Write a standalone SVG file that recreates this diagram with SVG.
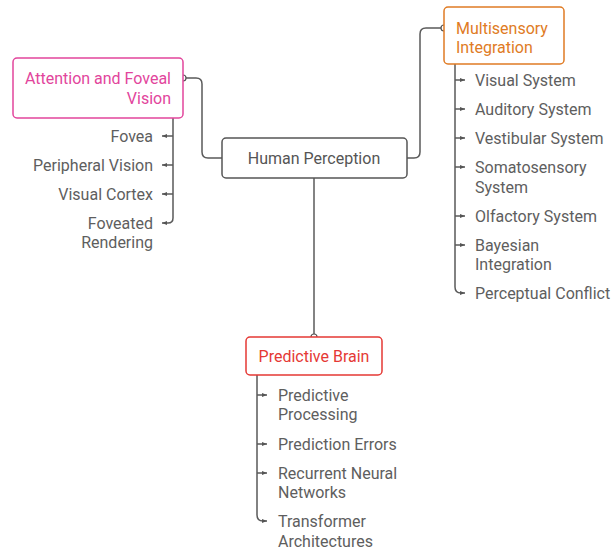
<svg xmlns="http://www.w3.org/2000/svg" width="612" height="551" viewBox="0 0 612 551">
  <defs>
    <marker id="tip" viewBox="0 0 6 6" refX="5" refY="3" markerWidth="6" markerHeight="6" markerUnits="userSpaceOnUse" orient="auto">
      <path d="M0,1 L5,3 L0,5 Z" fill="#555"/>
    </marker>
    <style>
      .box { fill: #fff; stroke-width: 1.5; }
      .link { fill: none; stroke: #5a5a5a; stroke-width: 1.5; }
      .tick { fill: none; stroke: #5a5a5a; stroke-width: 1.5; marker-end: url(#tip); }
      .port { fill: #fff; stroke: #555; stroke-width: 1.2; }
      text { font-family: Roboto, "Liberation Sans", sans-serif; font-size: 16px; dominant-baseline: central; }
      .leaf { fill: #5e5e5e; }
      .end { text-anchor: end; }
      .mid { text-anchor: middle; }
    </style>
  </defs>

  <!-- connectors -->
  <g id="connectors">
    <path class="link" d="M183,78 H196 Q202,78 202,84 V152 Q202,158 208,158 H222"/>
    <path class="link" d="M407,158 H414 Q420,158 420,152 V34 Q420,28 426,28 H444"/>
    <path class="link" d="M314,178 V337"/>
    <!-- left branch -->
    <path class="link" d="M173,118 V218 Q173,223 168,223"/>
    <path class="tick" d="M173,136 H162"/>
    <path class="tick" d="M173,165 H162"/>
    <path class="tick" d="M173,194 H162"/>
    <path class="tick" d="M168,223 H162"/>
    <!-- right branch -->
    <path class="link" d="M455,64 V287 Q455,293 461,293"/>
    <path class="tick" d="M455,80 H465"/>
    <path class="tick" d="M455,109 H465"/>
    <path class="tick" d="M455,138 H465"/>
    <path class="tick" d="M455,167 H465"/>
    <path class="tick" d="M455,216 H465"/>
    <path class="tick" d="M455,245 H465"/>
    <path class="tick" d="M461,293 H465"/>
    <!-- bottom branch -->
    <path class="link" d="M257,375 V515 Q257,521 263,521"/>
    <path class="tick" d="M257,395 H267"/>
    <path class="tick" d="M257,444 H267"/>
    <path class="tick" d="M257,473 H267"/>
    <path class="tick" d="M263,521 H267"/>
    <circle class="port" cx="183" cy="78" r="3"/>
    <circle class="port" cx="444" cy="28" r="3"/>
    <circle class="port" cx="314" cy="337" r="3"/>
  </g>

  <g id="human-perception">
    <rect class="box" x="222" y="138" width="185" height="40" rx="4" stroke="#555"/>
    <text class="mid" x="314" y="158" fill="#555">Human Perception</text>
  </g>

  <g id="attention">
    <rect class="box" x="13" y="58" width="170" height="60" rx="4" stroke="#e2459c"/>
    <text class="end" x="171" y="78" fill="#e2459c">Attention and Foveal</text>
    <text class="end" x="171" y="98" fill="#e2459c">Vision</text>
  </g>
  <g id="attention-items">
    <text class="leaf end" x="153" y="136">Fovea</text>
    <text class="leaf end" x="153" y="165">Peripheral Vision</text>
    <text class="leaf end" x="153" y="194">Visual Cortex</text>
    <text class="leaf end" x="153" y="223">Foveated</text>
    <text class="leaf end" x="153" y="242">Rendering</text>
  </g>

  <g id="multisensory">
    <rect class="box" x="444" y="7" width="120" height="57" rx="4" stroke="#e07b24"/>
    <text x="456" y="28" fill="#e07b24">Multisensory</text>
    <text x="456" y="47" fill="#e07b24">Integration</text>
  </g>
  <g id="multisensory-items">
    <text class="leaf" x="475" y="80">Visual System</text>
    <text class="leaf" x="475" y="109">Auditory System</text>
    <text class="leaf" x="475" y="138">Vestibular System</text>
    <text class="leaf" x="475" y="167">Somatosensory</text>
    <text class="leaf" x="475" y="187">System</text>
    <text class="leaf" x="475" y="216">Olfactory System</text>
    <text class="leaf" x="475" y="245">Bayesian</text>
    <text class="leaf" x="475" y="264">Integration</text>
    <text class="leaf" x="475" y="293">Perceptual Conflict</text>
  </g>

  <g id="predictive-brain">
    <rect class="box" x="246" y="337" width="136" height="38" rx="4" stroke="#e53935"/>
    <text class="mid" x="314" y="356" fill="#e53935">Predictive Brain</text>
  </g>
  <g id="predictive-items">
    <text class="leaf" x="278" y="395">Predictive</text>
    <text class="leaf" x="278" y="414">Processing</text>
    <text class="leaf" x="278" y="444">Prediction Errors</text>
    <text class="leaf" x="278" y="473">Recurrent Neural</text>
    <text class="leaf" x="278" y="492">Networks</text>
    <text class="leaf" x="278" y="521">Transformer</text>
    <text class="leaf" x="278" y="541">Architectures</text>
  </g>
</svg>
